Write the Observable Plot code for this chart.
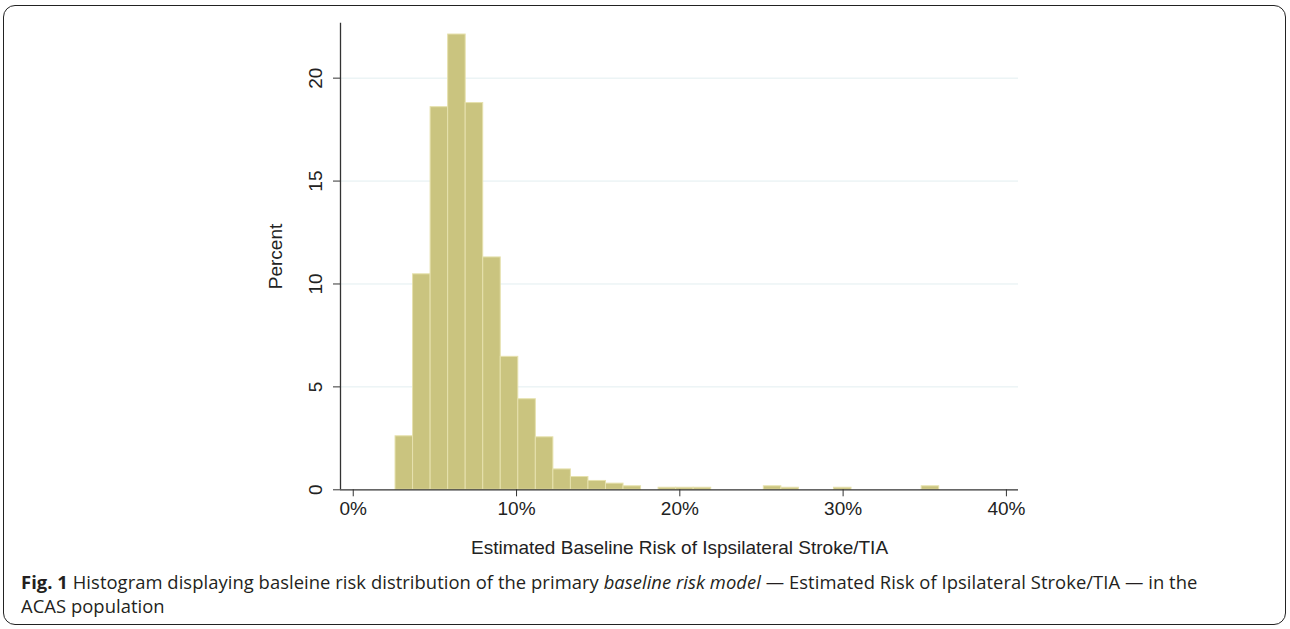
<!DOCTYPE html>
<html>
<head>
<meta charset="utf-8">
<script src="https://cdn.jsdelivr.net/npm/d3@7"></script>
<script src="https://cdn.jsdelivr.net/npm/@observablehq/plot@0.6"></script>
<style>
  html, body { margin: 0; padding: 0; background: #fff; }
  body { width: 1290px; height: 629px; position: relative; overflow: hidden; }
  #frame { position: absolute; left: 3px; top: 5px; width: 1283px; height: 620px;
           border: 1.5px solid #222; border-radius: 12px; box-sizing: border-box; }
  #chart { position: absolute; left: 0; top: 0; }
  #caption { position: absolute; left: 21px; top: 570px; width: 1250px;
             font-family: "Open Sans", sans-serif; font-size: 18.4px; line-height: 24px;
             color: #231f20; letter-spacing: 0.05px; white-space: nowrap; }
  #caption b { font-weight: 700; }
</style>
</head>
<body>
<div id="frame"></div>
<div id="chart"></div>
<div id="caption"><b>Fig. 1</b> Histogram displaying basleine risk distribution of the primary <i>baseline risk model</i> — Estimated Risk of Ipsilateral Stroke/TIA — in the<br>ACAS population</div>
<script>
// Histogram definition (percent scale, %)
const binStart = 2.59;
const binWidth = 1.074;
// Percent of patients in each bin
const percents = [2.6, 10.47, 18.59, 22.12, 18.79, 11.29, 6.46, 4.40, 2.55, 0.99,
                  0.62, 0.43, 0.30, 0.17, 0, 0.1, 0.1, 0.1, 0, 0,
                  0, 0.17, 0.1, 0, 0, 0.1, 0, 0, 0, 0, 0.17];
const xTicks = [0, 10, 20, 30, 40];
const yTicks = [0, 5, 10, 15, 20];
const gridTicks = [5, 10, 15, 20];
const xDomain = [-0.78, 40.74];
const yDomain = [0, 22.67];

const bins = percents.map((p, i) => ({
  x1: binStart + i * binWidth,
  x2: binStart + (i + 1) * binWidth,
  y: p
}));

const W = 1290, H = 570;
const font = "'Liberation Sans', Arial, sans-serif";

const plot = Plot.plot({
  width: W,
  height: H,
  marginLeft: 340,
  marginRight: 272,
  marginTop: 22.7,
  marginBottom: H - 489.3,
  style: { fontFamily: font, fontSize: "19px", color: "#222", background: "transparent" },
  x: { domain: xDomain },
  y: { domain: yDomain },
  marks: [
    Plot.gridY(gridTicks, { stroke: "#e2eef0", strokeOpacity: 1, strokeWidth: 1 }),
    Plot.rectY(bins.filter(d => d.y > 0), {
      x1: "x1", x2: "x2", y: "y",
      fill: "#cac47f", stroke: "#e6e1ad", strokeWidth: 1
    }),
    Plot.ruleY([0], { stroke: "#333", strokeWidth: 1.3 }),
    Plot.ruleX([xDomain[0]], { stroke: "#333", strokeWidth: 1.3 }),
    Plot.axisX(xTicks, {
      tickSize: 7, tickPadding: 5, stroke: "#333",
      tickFormat: d => d + "%", fontSize: 19,
      label: "Estimated Baseline Risk of Ispsilateral Stroke/TIA",
      labelAnchor: "center", labelOffset: 64, labelArrow: "none"
    }),
    Plot.axisY(yTicks, {
      tickSize: 7, tickPadding: 12, tickRotate: -90, stroke: "#333",
      fontSize: 19,
      label: "Percent", labelAnchor: "center", labelOffset: 72, labelArrow: "none"
    })
  ]
});
document.getElementById("chart").appendChild(plot);
</script>
</body>
</html>
